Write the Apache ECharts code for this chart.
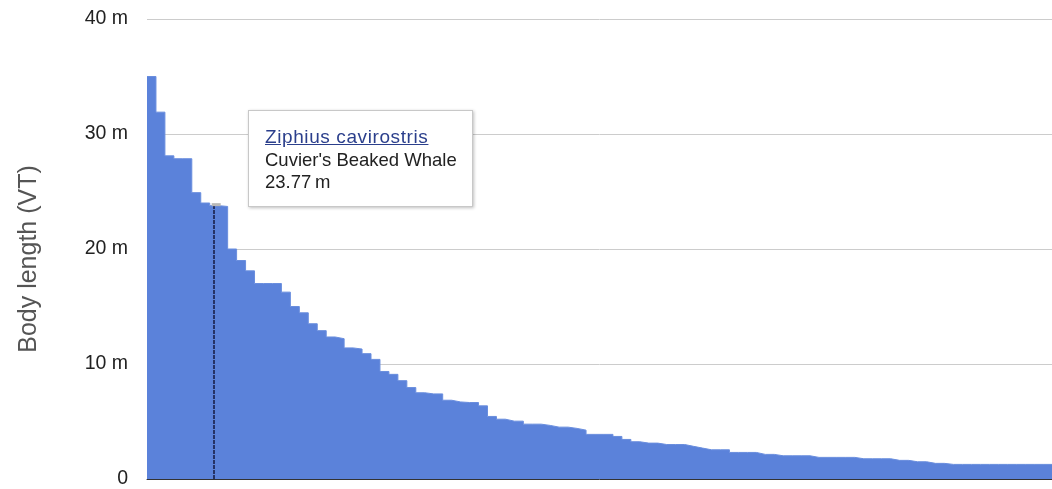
<!DOCTYPE html>
<html>
<head>
<meta charset="utf-8">
<script src="https://cdn.jsdelivr.net/npm/echarts@6/dist/echarts.min.js"></script>
<style>
html,body{margin:0;padding:0;background:#fff;}
#chart{width:1052px;height:489px;}
</style>
</head>
<body>
<div id="chart"></div>
<script>
// Body length (m) of species, sorted descending (one step per species)
var bodyLength = [
  35.0, 31.9, 28.1, 27.85, 27.85, 24.9, 24.0, 23.77, 23.7, 20.0,
  19.0, 18.1, 17.0, 17.0, 17.0, 16.25, 15.0, 14.45, 13.5, 12.9,
  12.35, 12.2, 11.4, 11.3, 10.9, 10.4, 9.35, 9.1, 8.55, 7.95,
  7.5, 7.4, 7.4, 6.85, 6.7, 6.65, 6.65, 6.36, 5.44, 5.2,
  5.03, 5.03, 4.77, 4.77, 4.66, 4.51, 4.51, 4.4, 4.25, 3.88,
  3.88, 3.88, 3.7, 3.44, 3.24, 3.12, 3.12, 3.0, 3.0, 3.0,
  2.84, 2.69, 2.54, 2.54, 2.54, 2.31, 2.31, 2.31, 2.14, 2.14,
  2.02, 2.02, 2.02, 2.02, 1.88, 1.88, 1.88, 1.88, 1.88, 1.76,
  1.76, 1.76, 1.76, 1.62, 1.62, 1.5, 1.5, 1.36, 1.36, 1.27,
  1.27, 1.27, 1.27, 1.27, 1.27, 1.27, 1.27, 1.27, 1.27, 1.27,
  1.27
];
var yTickLabels = ['0', '10 m', '20 m', '30 m', '40 m'];
var hoverIndex = 7;
var hoverLatin = 'Ziphius cavirostris';
var hoverCommon = "Cuvier's Beaked Whale";
var hoverValueText = '23.77\u2009m';

// step points: species i occupies [i, i+1] on the x scale
var stepData = bodyLength.map(function (v, i) { return [i, v]; });
stepData.push([bodyLength.length, bodyLength[bodyLength.length - 1]]);

var chart = echarts.init(document.getElementById('chart'));
var option = {
  animation: false,
  grid: { left: 147, right: 0, top: 19, bottom: 9, containLabel: false },
  tooltip: {
    trigger: 'item',
    triggerOn: 'none',
    alwaysShowContent: true,
    transitionDuration: 0,
    position: [248, 110],
    backgroundColor: '#fff',
    borderColor: '#c8c8c8',
    borderWidth: 1,
    borderRadius: 0,
    padding: [15, 16, 0, 16],
    extraCssText: 'width:225px;height:97px;box-sizing:border-box;box-shadow:1px 1px 3px rgba(0,0,0,0.25);',
    formatter: function (p) {
      return '<div style="font-family:\'Liberation Sans\',Arial,sans-serif;color:#222;line-height:22.5px;">' +
        '<div style="font-size:19px;color:#2b3f8c;text-decoration:underline;letter-spacing:0.6px;">' + hoverLatin + '</div>' +
        '<div style="font-size:18.5px;">' + hoverCommon + '</div>' +
        '<div style="font-size:18.5px;">' + hoverValueText + '</div></div>';
    }
  },
  xAxis: {
    type: 'value',
    min: 0,
    max: bodyLength.length,
    axisLine: { show: true, onZero: false, lineStyle: { color: '#333', width: 1 } },
    axisTick: { show: false },
    axisLabel: { show: false },
    splitLine: { show: false }
  },
  yAxis: {
    type: 'value',
    min: 0,
    max: 40,
    interval: 10,
    name: 'Body length (VT)',
    nameLocation: 'middle',
    nameGap: 105,
    nameTextStyle: {
      fontFamily: 'Liberation Sans, Arial, sans-serif',
      fontSize: 25,
      color: '#555',
      padding: [0, 20, 0, 0]
    },
    axisLine: { show: false },
    axisTick: { show: false },
    axisLabel: {
      margin: 19,
      fontFamily: 'Liberation Sans, Arial, sans-serif',
      fontSize: 19.5,
      color: '#222',
      formatter: function (v) { return yTickLabels[Math.round(v / 10)]; }
    },
    splitLine: { lineStyle: { color: '#cccccc', width: 1 } }
  },
  series: [{
    type: 'line',
    data: stepData,
    step: 'end',
    showSymbol: true,
    showAllSymbol: true,
    symbol: 'circle',
    symbolSize: 1,
    itemStyle: { color: '#5b82da', opacity: 0 },
    lineStyle: { color: '#6a8ede', width: 1 },
    areaStyle: { color: '#5b82da', opacity: 1 },
    emphasis: { disabled: true },
    markLine: {
      silent: true,
      symbol: 'none',
      label: { show: false },
      lineStyle: { color: '#263366', width: 2, type: [4, 1] },
      data: [[
        { coord: [hoverIndex + 0.5, 0] },
        { coord: [hoverIndex + 0.5, bodyLength[hoverIndex]] }
      ]]
    },
    markPoint: {
      silent: true,
      symbol: 'rect',
      symbolSize: [9, 3],
      symbolOffset: [2, -1],
      label: { show: false },
      itemStyle: { color: '#b8b8b8' },
      data: [{ coord: [hoverIndex + 0.5, bodyLength[hoverIndex]] }]
    }
  }]
};
chart.setOption(option);
chart.dispatchAction({ type: 'showTip', seriesIndex: 0, dataIndex: hoverIndex });
setTimeout(function () {
  chart.dispatchAction({ type: 'showTip', seriesIndex: 0, dataIndex: hoverIndex });
}, 50);
</script>
</body>
</html>
